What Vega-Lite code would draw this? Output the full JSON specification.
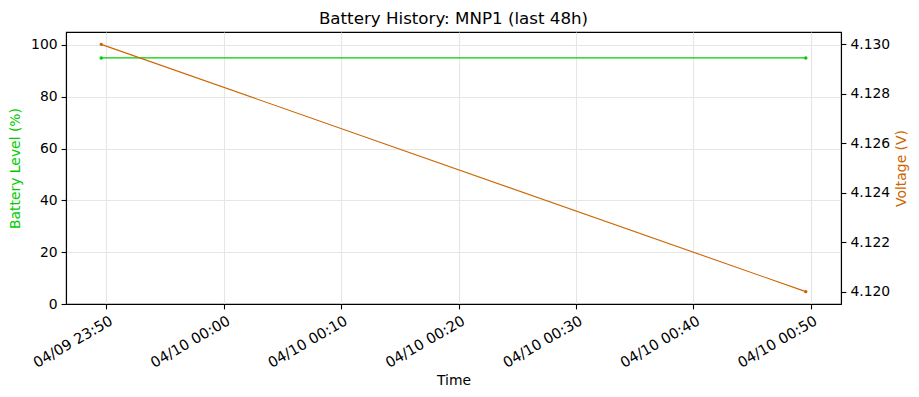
{
  "$schema": "https://vega.github.io/schema/vega-lite/v6.json",
  "autosize": "none",
  "width": 775,
  "height": 272,
  "padding": {"left": 66, "top": 32, "right": 78, "bottom": 93},
  "background": "white",
  "config": {
    "font": "DejaVu Sans",
    "view": {"stroke": "black", "strokeWidth": 1.1},
    "axis": {
      "labelFont": "DejaVu Sans", "labelFontSize": 13.9, "labelColor": "black",
      "titleFont": "DejaVu Sans", "titleFontSize": 13.9, "titleFontWeight": "normal",
      "domainColor": "black", "domainWidth": 1.1, "tickColor": "black", "tickWidth": 1.1, "tickSize": 4.9,
      "labelPadding": 4, "gridColor": "#e6e6e6", "gridWidth": 1.1
    },
    "title": {"font": "DejaVu Sans", "fontSize": 16.7, "fontWeight": "normal", "color": "black"}
  },
  "title": {"text": "Battery History: MNP1 (last 48h)", "offset": 4},
  "data": {"values": [
    {"time": "2025-04-09T23:49:34Z", "battery": 95, "voltage": 4.130},
    {"time": "2025-04-10T00:49:34Z", "battery": 95, "voltage": 4.120}
  ]},
  "encoding": {
    "x": {
      "field": "time", "type": "temporal",
      "scale": {"type": "utc", "domain": [{"year": 2025, "month": 4, "date": 9, "hours": 23, "minutes": 46, "seconds": 34, "utc": true}, {"year": 2025, "month": 4, "date": 10, "hours": 0, "minutes": 52, "seconds": 34, "utc": true}]},
      "axis": {
        "title": "Time",
        "labelExpr": "utcFormat(datum.value, '%m/%d %H:%M')",
        "values": [
          {"year": 2025, "month": 4, "date": 9, "hours": 23, "minutes": 50, "utc": true},
          {"year": 2025, "month": 4, "date": 10, "hours": 0, "minutes": 0, "utc": true},
          {"year": 2025, "month": 4, "date": 10, "hours": 0, "minutes": 10, "utc": true},
          {"year": 2025, "month": 4, "date": 10, "hours": 0, "minutes": 20, "utc": true},
          {"year": 2025, "month": 4, "date": 10, "hours": 0, "minutes": 30, "utc": true},
          {"year": 2025, "month": 4, "date": 10, "hours": 0, "minutes": 40, "utc": true},
          {"year": 2025, "month": 4, "date": 10, "hours": 0, "minutes": 50, "utc": true}
        ],
        "labelAngle": -30, "labelAlign": "right", "labelBaseline": "top", "labelFlush": false, "labelOverlap": false,
        "labelFontSize": 14.6, "labelOffset": 1,
        "grid": true, "titlePadding": 4
      }
    }
  },
  "layer": [
    {
      "encoding": {
        "y": {"field": "battery", "type": "quantitative",
          "scale": {"domain": [0, 105], "nice": false, "zero": false},
          "axis": {"title": "Battery Level (%)", "titleColor": "#00cc00", "values": [0, 20, 40, 60, 80, 100], "grid": true, "titlePadding": 8}}
      },
      "layer": [
        {"mark": {"type": "line", "color": "#00cc00", "strokeWidth": 1.1}},
        {"mark": {"type": "point", "filled": true, "color": "#00cc00", "size": 12, "opacity": 1}}
      ]
    },
    {
      "encoding": {
        "y": {"field": "voltage", "type": "quantitative",
          "scale": {"domain": [4.1195, 4.1305], "nice": false, "zero": false},
          "axis": {"orient": "right", "title": "Voltage (V)", "titleColor": "#cc6600", "titleAngle": 270, "titleBaseline": "top", "values": [4.120, 4.122, 4.124, 4.126, 4.128, 4.130], "format": ".3f", "grid": false, "titlePadding": 5}}
      },
      "layer": [
        {"mark": {"type": "line", "color": "#cc6600", "strokeWidth": 1.1}},
        {"mark": {"type": "point", "filled": true, "color": "#cc6600", "size": 12, "opacity": 1}}
      ]
    }
  ],
  "resolve": {"scale": {"y": "independent"}, "axis": {"y": "independent"}}
}
